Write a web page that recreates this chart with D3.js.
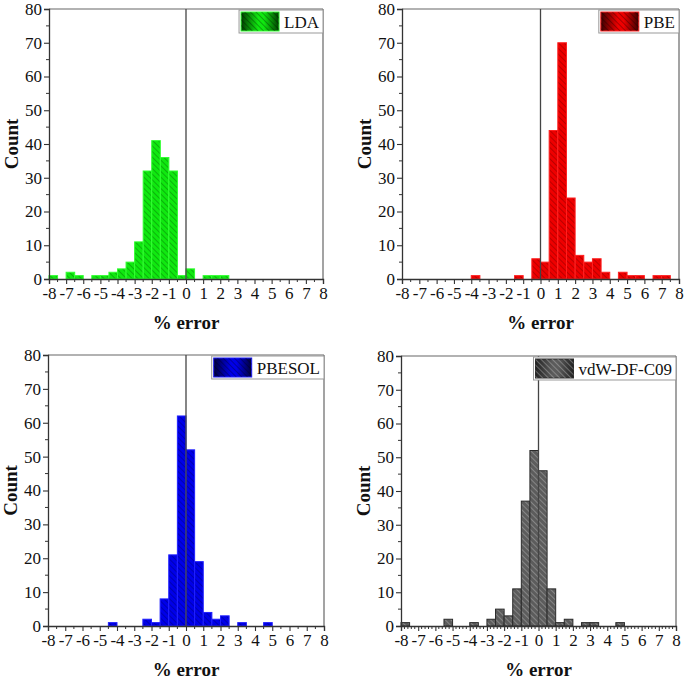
<!DOCTYPE html>
<html><head><meta charset="utf-8">
<script src="https://cdn.jsdelivr.net/npm/d3@7"></script>
<style>
html,body{margin:0;padding:0;background:#fff;}
svg{display:block;font-family:"Liberation Serif","Times New Roman",serif;}
</style></head>
<body>
<svg id="chart" width="685" height="679"></svg>
<script>
// Histogram bins (left edge, % error), bin width 0.5
const binStarts = [-8,-7.5,-7,-6.5,-6,-5.5,-5,-4.5,-4,-3.5,-3,-2.5,-2,-1.5,-1,-0.5,
                   0,0.5,1,1.5,2,2.5,3,3.5,4,4.5,5,5.5,6,6.5,7,7.5];
const binWidth = 0.5;
const xTicks = [-8,-7,-6,-5,-4,-3,-2,-1,0,1,2,3,4,5,6,7,8];
const yTicks = [0,10,20,30,40,50,60,70,80];
const seriesNames = ["LDA","PBE","PBESOL","vdW-DF-C09"];
const ldaCounts    = [1,0,2,1,0,1,1,2,3,5,11,32,41,36,32,1,3,0,1,1,1,0,0,0,0,0,0,0,0,0,0,0];
const pbeCounts    = [0,0,0,0,0,0,0,0,1,0,0,0,0,1,0,6,5,44,70,24,7,5,6,2,0,2,1,1,0,1,1,0];
const pbesolCounts = [0,0,0,0,0,0,0,1,0,0,0,2,1,8,21,62,52,19,4,2,3,0,1,0,0,1,0,0,0,0,0,0];
const vdwCounts    = [1,0,0,0,0,2,0,0,1,0,2,5,3,11,37,52,46,11,1,2,0,1,1,0,0,1,0,0,0,0,0,0];

// presentation
const panels = [
  {name:seriesNames[0], counts:ldaCounts,    x0:49,  x1:323, y0:9,   y1:279, fill:"#10e810", stroke:"#30ff30", hatch:"rgba(0,60,0,0.45)", dark:"#003a00", minor:0.5},
  {name:seriesNames[1], counts:pbeCounts,    x0:402, x1:679, y0:9,   y1:279, fill:"#ee0000", stroke:"#ff2020", hatch:"rgba(70,0,0,0.45)", dark:"#3a0000", minor:0.5},
  {name:seriesNames[2], counts:pbesolCounts, x0:48,  x1:324, y0:355, y1:626, fill:"#0000e8", stroke:"#2020ff", hatch:"rgba(0,0,60,0.45)", dark:"#00003a", minor:0.5},
  {name:seriesNames[3], counts:vdwCounts,    x0:401, x1:676, y0:356, y1:626, fill:"#5c5c5c", stroke:"#2a2a2a", hatch:"rgba(200,200,200,0.55)", dark:"#222", minor:0.2}
];

const svg = d3.select("#chart");
const defs = svg.append("defs");
const axisCol = "#333";

panels.forEach((p,i)=>{
  const pat = defs.append("pattern").attr("id","hatch"+i).attr("patternUnits","userSpaceOnUse")
    .attr("width",4).attr("height",4).attr("patternTransform","rotate(-45)");
  pat.append("rect").attr("width",4).attr("height",4).attr("fill",p.fill);
  pat.append("line").attr("x1",0).attr("y1",0).attr("x2",0).attr("y2",4)
    .attr("stroke",p.hatch).attr("stroke-width",1.4);
  const gr = defs.append("linearGradient").attr("id","grad"+i);
  gr.append("stop").attr("offset","0%").attr("stop-color",p.dark);
  gr.append("stop").attr("offset","45%").attr("stop-color",p.fill);
  gr.append("stop").attr("offset","60%").attr("stop-color",p.fill);
  gr.append("stop").attr("offset","100%").attr("stop-color",p.dark);
  const pat2 = defs.append("pattern").attr("id","lhatch"+i).attr("patternUnits","userSpaceOnUse")
    .attr("width",4).attr("height",4).attr("patternTransform","rotate(-45)");
  pat2.append("line").attr("x1",0).attr("y1",0).attr("x2",0).attr("y2",4)
    .attr("stroke",i===3?"rgba(200,200,200,0.6)":"rgba(0,0,0,0.45)").attr("stroke-width",1.3);

  const x = d3.scaleLinear().domain([-8,8]).range([p.x0,p.x1]);
  const y = d3.scaleLinear().domain([0,80]).range([p.y1,p.y0]);
  const g = svg.append("g");

  g.selectAll("rect.bar").data(binStarts.map((b,k)=>({b,c:p.counts[k]})).filter(d=>d.c>0))
    .join("rect").attr("class","bar")
    .attr("x",d=>x(d.b)).attr("width",d=>x(d.b+binWidth)-x(d.b))
    .attr("y",d=>y(d.c)).attr("height",d=>y(0)-y(d.c))
    .attr("fill","url(#hatch"+i+")").attr("stroke",p.stroke).attr("stroke-width",1);

  g.append("line").attr("x1",p.x0).attr("x2",p.x1).attr("y1",p.y0).attr("y2",p.y0).attr("stroke","#666").attr("stroke-width",1.2);
  g.append("line").attr("x1",p.x1).attr("x2",p.x1).attr("y1",p.y0).attr("y2",p.y1).attr("stroke","#666").attr("stroke-width",1.2);
  g.append("line").attr("x1",x(0)).attr("x2",x(0)).attr("y1",p.y0).attr("y2",p.y1).attr("stroke","#444").attr("stroke-width",1.3);

  const xMinor = d3.range(-8,8+1e-9,p.minor).filter(v=>Math.abs(v-Math.round(v))>1e-6);
  const xa = g.append("g").attr("transform",`translate(0,${p.y1})`)
    .call(d3.axisBottom(x).tickValues(xTicks).tickFormat(d=>d<0?"-"+(-d):d).tickSize(5).tickPadding(3));
  xa.append("g").selectAll("line").data(xMinor).join("line")
    .attr("x1",d=>x(d)).attr("x2",d=>x(d)).attr("y1",0).attr("y2",3).attr("stroke",axisCol);
  const yMinor = [5,15,25,35,45,55,65,75];
  const ya = g.append("g").attr("transform",`translate(${p.x0},0)`)
    .call(d3.axisLeft(y).tickValues(yTicks).tickSize(5).tickPadding(2));
  ya.append("g").selectAll("line").data(yMinor).join("line")
    .attr("x1",0).attr("x2",-3).attr("y1",d=>y(d)).attr("y2",d=>y(d)).attr("stroke",axisCol);
  [xa,ya].forEach(a=>{
    a.attr("font-family","Liberation Serif, serif");
    a.select(".domain").attr("stroke",axisCol).attr("stroke-width",1.3);
    a.selectAll(".tick line").attr("stroke",axisCol).attr("stroke-width",1.1);
    a.selectAll("text").attr("font-family","Liberation Serif, serif").attr("font-size",17).attr("fill","#111");
  });

  g.append("text").attr("transform",`translate(${p.x0-38},${(p.y0+p.y1)/2}) rotate(-90)`)
    .attr("text-anchor","middle").attr("dominant-baseline","central")
    .attr("font-size",19).attr("font-weight","bold").attr("fill","#111").text("Count");
  g.append("text").attr("x",(p.x0+p.x1)/2).attr("y",p.y1+50)
    .attr("text-anchor","middle").attr("font-size",19).attr("font-weight","bold").attr("fill","#111").text("% error");

  const lg = g.append("g");
  const txt = lg.append("text").attr("y",p.y0+19).attr("font-size",17).attr("fill","#111").text(p.name);
  const tw = txt.node().getComputedTextLength();
  const boxW = 2+38+5+tw+4;
  const bx = p.x1-boxW;
  lg.insert("rect","text").attr("x",bx).attr("y",p.y0+1).attr("width",boxW).attr("height",23)
    .attr("fill","#fff").attr("stroke","#999").attr("stroke-width",1);
  lg.insert("rect","text").attr("x",bx+2).attr("y",p.y0+3).attr("width",38).attr("height",19)
    .attr("fill","url(#grad"+i+")").attr("stroke",p.stroke).attr("stroke-width",1);
  lg.insert("rect","text").attr("x",bx+2).attr("y",p.y0+3).attr("width",38).attr("height",19)
    .attr("fill","url(#lhatch"+i+")");
  txt.attr("x",bx+2+38+5);
});
</script>
</body></html>
